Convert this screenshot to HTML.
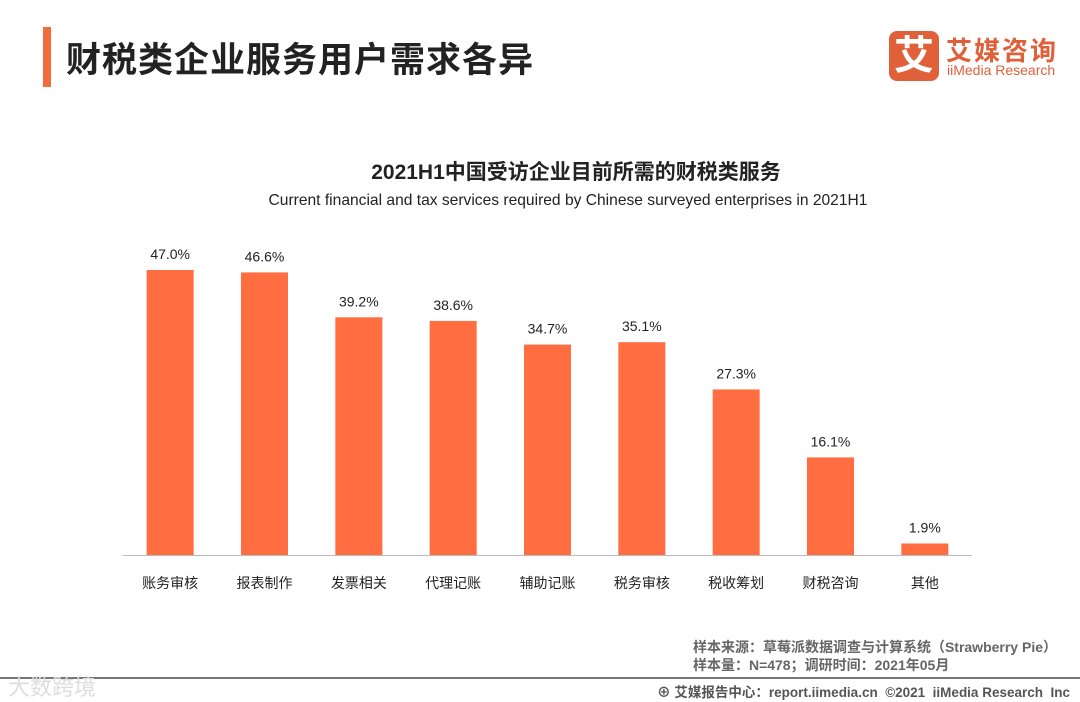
<!DOCTYPE html>
<html><head><meta charset="utf-8"><style>
body{margin:0;width:1080px;height:702px;background:#fff;position:relative;overflow:hidden;font-family:"Liberation Sans","Noto Sans CJK SC",sans-serif}
.abs{position:absolute}
</style></head><body>
<div class="abs" style="left:43px;top:27px;width:8px;height:60px;background:#f26b3a"></div>
<div class="abs" style="left:66px;top:32px;font-size:35px;font-weight:bold;color:#222;letter-spacing:1px">财税类企业服务用户需求各异</div>
<div class="abs" style="left:889px;top:31px;width:50px;height:50px;background:#e0603a;border-radius:8px;color:#fff;font-size:40px;font-weight:bold;text-align:center;line-height:50px">艾</div>
<div class="abs" style="left:946px;top:31px;font-size:26px;font-weight:bold;color:#e0603a;letter-spacing:2px">艾媒咨询</div>
<div class="abs" style="left:947px;top:62px;font-size:14px;color:#e0603a">iiMedia Research</div>
<div class="abs" style="left:0;width:1152px;top:156px;text-align:center;font-size:21px;font-weight:bold;color:#222">2021H1中国受访企业目前所需的财税类服务</div>
<div class="abs" style="left:0;width:1136px;top:192px;text-align:center;font-size:15.6px;color:#222">Current financial and tax services required by Chinese surveyed enterprises in 2021H1</div>
<svg class="abs" style="left:0;top:0" width="1080" height="702" id="chart"></svg>
<div class="abs" style="right:23px;top:638px;font-size:14px;font-weight:bold;color:#666;text-align:left;line-height:18px;white-space:nowrap">样本来源：草莓派数据调查与计算系统（Strawberry Pie）<br>样本量：N=478；调研时间：2021年05月</div>
<div class="abs" style="left:0;top:677px;width:1080px;height:2px;background:#777"></div>
<div class="abs" style="left:8px;top:670px;font-size:22px;color:#ddd">大数跨境</div>
<div class="abs" style="right:10px;top:681px;font-size:13.5px;font-weight:bold;color:#555">⊕ 艾媒报告中心：report.iimedia.cn &nbsp;©2021 &nbsp;iiMedia Research &nbsp;Inc</div>
<script>
const categories=["账务审核","报表制作","发票相关","代理记账","辅助记账","税务审核","税收筹划","财税咨询","其他"];
const values=[47.0,46.6,39.2,38.6,34.7,35.1,27.3,16.1,1.9];
const svg=document.getElementById('chart');
const NS='http://www.w3.org/2000/svg';
const x0=123,x1=972,base=555,pxPer=285/47;
const slot=(x1-x0)/categories.length,bw=47;
const xs=i=>x0+slot*i+slot/2;
const ys=v=>base-v*pxPer;
function mk(t,a){const e=document.createElementNS(NS,t);for(const k in a)e.setAttribute(k,a[k]);svg.appendChild(e);return e;}
const ax=mk('line',{x1:x0,x2:x1,y1:base+0.5,y2:base+0.5,stroke:'#bbb'});


values.forEach((v,i)=>{
 const r=mk('rect',{x:xs(i)-bw/2,y:ys(v),width:bw,height:base-ys(v),fill:'#ff6d40'});
 
 
 const t=mk('text',{x:xs(i),y:ys(v)-11,'text-anchor':'middle','font-size':14,fill:'#222'});
 t.textContent=v.toFixed(1)+'%';
 
 
 const c=mk('text',{x:xs(i),y:588,'text-anchor':'middle','font-size':14,fill:'#222'});
 c.textContent=categories[i];
 
 
});
</script>
</body></html>
